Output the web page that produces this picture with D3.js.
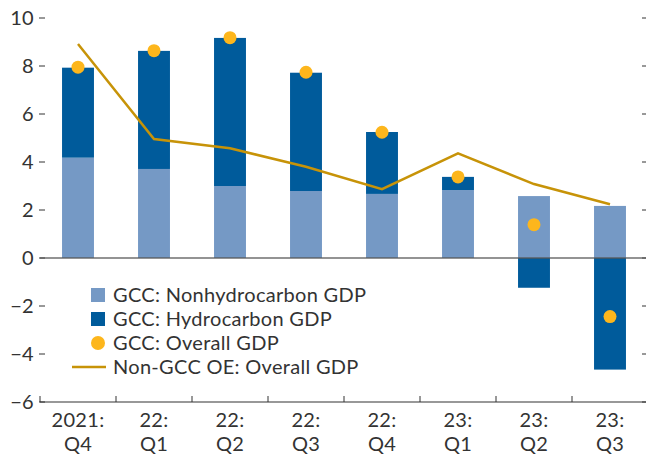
<!DOCTYPE html>
<html>
<head>
<meta charset="utf-8">
<script src="https://cdn.jsdelivr.net/npm/d3@7"></script>
<style>
  body { margin: 0; background: #fff; }
  svg { font-family: Lato, "Open Sans", sans-serif; letter-spacing: 0.3px; }
</style>
</head>
<body>
<div id="chart"></div>
<script>
// quarters and series (percent)
var quarters = ["2021:|Q4", "22:|Q1", "22:|Q2", "22:|Q3", "22:|Q4", "23:|Q1", "23:|Q2", "23:|Q3"];
var nonHydro = [4.18, 3.71, 3.0, 2.79, 2.67, 2.83, 2.58, 2.17];
var hydro = [3.75, 4.92, 6.17, 4.93, 2.58, 0.55, -1.24, -4.65];
var overall = [7.95, 8.64, 9.18, 7.74, 5.24, 3.38, 1.39, -2.44];
var nonGcc = [8.92, 4.96, 4.57, 3.8, 2.87, 4.36, 3.08, 2.24];
var yTicks = [-6, -4, -2, 0, 2, 4, 6, 8, 10];

var width = 646, height = 455,
    plotLeft = 40, plotRight = 648, plotTop = 18, plotBottom = 402;

var colLight = "#7599c5", colDark = "#005b9b", colDot = "#fdb61c", colLine = "#c79308",
    txt = "#333", fs = "20px";

var svg = d3.select("#chart").append("svg").
    attr("width", width).
    attr("height", height);

var x = d3.scaleBand().domain(quarters).range([plotLeft, plotRight]).paddingInner(0.58).paddingOuter(0.29),
    y = d3.scaleLinear().domain([-6, 10]).range([plotBottom, plotTop]);

// y ticks, left and right
yTicks.forEach(function(t) {
    svg.append("line").attr("x1", 39).attr("x2", 45).attr("y1", y(t)).attr("y2", y(t)).
        attr("stroke", txt).attr("stroke-width", 1);
    svg.append("line").attr("x1", 642).attr("x2", 648).attr("y1", y(t)).attr("y2", y(t)).
        attr("stroke", txt).attr("stroke-width", 1);
    svg.append("text").attr("x", 34).attr("y", y(t)).attr("dy", "0.36em").
        attr("text-anchor", "end").attr("fill", txt).style("font-size", fs).
        text(t < 0 ? "\u2212" + Math.abs(t) : t);
});

// bars
var rows = quarters.map(function(q, i) { return {q: q, nh: nonHydro[i], h: hydro[i]}; });

svg.selectAll(".nh").data(rows).enter().append("rect").
    attr("x", function(d) { return x(d.q); }).
    attr("width", x.bandwidth()).
    attr("y", function(d) { return y(d.nh); }).
    attr("height", function(d) { return y(0) - y(d.nh); }).
    attr("fill", colLight);

svg.selectAll(".h").data(rows).enter().append("rect").
    attr("x", function(d) { return x(d.q); }).
    attr("width", x.bandwidth()).
    attr("y", function(d) { return d.h >= 0 ? y(d.nh + d.h) : y(0); }).
    attr("height", function(d) { return d.h >= 0 ? y(d.nh) - y(d.nh + d.h) : y(d.h) - y(0); }).
    attr("fill", colDark);

// zero line
svg.append("line").attr("x1", plotLeft).attr("x2", plotRight).attr("y1", y(0)).attr("y2", y(0)).
    attr("stroke", "#555").attr("stroke-width", 1.5).attr("stroke-opacity", 0.85);

// non-GCC line
var line = d3.line().
    x(function(d, i) { return x(quarters[i]) + x.bandwidth() / 2; }).
    y(function(d) { return y(d); });

svg.append("path").datum(nonGcc).attr("d", line).
    attr("fill", "none").attr("stroke", colLine).attr("stroke-width", 2.5);

// overall dots
svg.selectAll(".dot").data(overall).enter().append("circle").
    attr("cx", function(d, i) { return x(quarters[i]) + x.bandwidth() / 2; }).
    attr("cy", function(d) { return y(d); }).
    attr("r", 6.5).
    attr("fill", colDot);

// x axis
svg.append("line").attr("x1", plotLeft).attr("x2", plotRight).attr("y1", plotBottom).attr("y2", plotBottom).
    attr("stroke", txt).attr("stroke-width", 1.2);
for (var i = 0; i <= quarters.length; i++) {
    var bx = plotLeft + i * x.step();
    svg.append("line").attr("x1", bx).attr("x2", bx).attr("y1", plotBottom).attr("y2", plotBottom - 6).
        attr("stroke", txt).attr("stroke-width", 1);
}
quarters.forEach(function(q) {
    var parts = q.split("|"),
        t = svg.append("text").attr("text-anchor", "middle").attr("fill", txt).style("font-size", fs);
    t.append("tspan").attr("x", x(q) + x.bandwidth() / 2).attr("y", 427).text(parts[0]);
    t.append("tspan").attr("x", x(q) + x.bandwidth() / 2).attr("y", 451).text(parts[1]);
});

// legend
var legend = [
    {label: "GCC: Nonhydrocarbon GDP", kind: "rect", color: colLight},
    {label: "GCC: Hydrocarbon GDP", kind: "rect", color: colDark},
    {label: "GCC: Overall GDP", kind: "dot", color: colDot},
    {label: "Non-GCC OE: Overall GDP", kind: "line", color: colLine}
];
legend.forEach(function(d, i) {
    var cy = 295 + i * 24;
    if (d.kind == "rect") {
        svg.append("rect").attr("x", 91).attr("y", cy - 7).attr("width", 14).attr("height", 14).attr("fill", d.color);
    } else if (d.kind == "dot") {
        svg.append("circle").attr("cx", 98).attr("cy", cy).attr("r", 7).attr("fill", d.color);
    } else {
        svg.append("line").attr("x1", 72).attr("x2", 106).attr("y1", cy).attr("y2", cy).
            attr("stroke", d.color).attr("stroke-width", 2.5);
    }
    svg.append("text").attr("x", 113).attr("y", cy).attr("dy", "0.36em").
        attr("fill", txt).style("font-size", fs).text(d.label);
});
</script>
</body>
</html>
